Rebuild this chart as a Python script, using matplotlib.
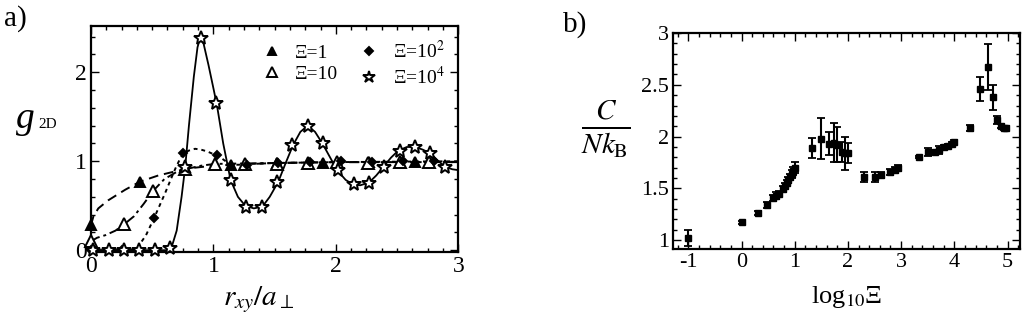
import matplotlib

matplotlib.use("Agg")
import matplotlib.pyplot as plt
from matplotlib.ticker import MultipleLocator, FuncFormatter

plt.rcParams["font.family"] = ["Liberation Serif", "DejaVu Serif"]
plt.rcParams["mathtext.fontset"] = "stix"
plt.rcParams["axes.unicode_minus"] = False

# ---- panel a: g_2D(r) for four coupling strengths
star_x = [0.02, 0.145, 0.27, 0.395, 0.52, 0.645, 0.77, 0.895, 1.02, 1.145, 1.27, 1.395,
          1.52, 1.645, 1.77, 1.895, 2.02, 2.145, 2.27, 2.395, 2.52, 2.645, 2.77, 2.895]
star_y = [0.0, 0.0, 0.0, 0.0, 0.0, 0.02, 0.94, 2.38, 1.65, 0.79, 0.49, 0.49,
          0.77, 1.18, 1.40, 1.20, 0.90, 0.74, 0.76, 0.94, 1.12, 1.16, 1.09, 0.94]
star_line_x = [0.0, 0.62, 0.66, 0.70, 0.74, 0.77, 0.80, 0.84, 0.87, 0.89, 0.92, 0.96, 1.00,
               1.03, 1.08, 1.14, 1.20, 1.26, 1.33, 1.40, 1.46, 1.53, 1.59, 1.65, 1.71, 1.77,
               1.83, 1.89, 1.95, 2.01, 2.08, 2.14, 2.20, 2.27, 2.33, 2.39, 2.45, 2.51, 2.58,
               2.65, 2.71, 2.77, 2.83, 2.89, 2.95, 3.0]
star_line_y = [0.0, 0.0, 0.04, 0.22, 0.60, 0.94, 1.40, 1.95, 2.28, 2.38, 2.32, 2.08, 1.82,
               1.62, 1.20, 0.79, 0.60, 0.50, 0.47, 0.49, 0.60, 0.77, 0.98, 1.18, 1.33, 1.40,
               1.33, 1.20, 1.05, 0.90, 0.79, 0.74, 0.73, 0.76, 0.84, 0.94, 1.04, 1.12, 1.16,
               1.16, 1.13, 1.09, 1.01, 0.94, 0.91, 0.90]

tri_x = [0.0, 0.40, 0.77, 1.145, 1.52, 1.895, 2.27, 2.645]
tri_y = [0.28, 0.77, 0.93, 0.96, 0.98, 0.98, 0.99, 0.99]
tri_line_x = [0.0, 0.02, 0.06, 0.14, 0.28, 0.40, 0.55, 0.70, 0.80, 1.0, 1.15, 1.5, 2.0, 3.0]
tri_line_y = [0.28, 0.38, 0.47, 0.56, 0.68, 0.77, 0.84, 0.89, 0.92, 0.95, 0.96, 0.98, 0.99, 0.99]

otri_x = [0.0, 0.27, 0.51, 0.77, 1.01, 1.26, 1.52, 1.77, 2.01, 2.26, 2.52, 2.76]
otri_y = [0.10, 0.29, 0.67, 0.91, 0.97, 0.97, 0.97, 0.98, 0.99, 0.98, 0.99, 0.99]
otri_line_x = [0.0, 0.05, 0.12, 0.20, 0.27, 0.35, 0.43, 0.51, 0.60, 0.70, 0.77, 0.90, 1.01,
               1.5, 2.0, 3.0]
otri_line_y = [0.10, 0.14, 0.17, 0.22, 0.29, 0.38, 0.52, 0.67, 0.80, 0.88, 0.91, 0.95, 0.97,
               0.98, 0.99, 0.99]

dia_x = [0.0, 0.255, 0.515, 0.755, 1.03, 1.275, 1.53, 1.785, 2.04, 2.295, 2.55, 2.805]
dia_y = [0.0, 0.0, 0.36, 1.09, 1.07, 0.96, 0.98, 0.99, 1.0, 0.99, 1.0, 1.0]
dia_line_x = [0.0, 0.33, 0.38, 0.45, 0.515, 0.56, 0.605, 0.65, 0.69, 0.725, 0.755, 0.80,
              0.85, 0.90, 0.95, 1.0, 1.03, 1.08, 1.13, 1.2, 1.3, 1.5, 2.0, 3.0]
dia_line_y = [0.0, 0.0, 0.03, 0.17, 0.36, 0.50, 0.64, 0.79, 0.92, 1.02, 1.09, 1.12,
              1.14, 1.13, 1.11, 1.08, 1.07, 1.02, 0.97, 0.96, 0.97, 0.98, 0.99, 1.0]

# ---- panel b: specific heat vs log10(Xi)
b_x = [-1.0, 0.0, 0.30, 0.48, 0.60, 0.65, 0.70, 0.78, 0.82, 0.85, 0.88, 0.91, 0.94, 0.97,
       1.00, 1.32, 1.50, 1.64, 1.73, 1.80, 1.89, 1.95, 2.01, 2.31, 2.50, 2.63, 2.80, 2.89,
       2.95, 3.33, 3.51, 3.64, 3.72, 3.80, 3.88, 3.95, 4.00, 4.30, 4.49, 4.63, 4.72, 4.80,
       4.87, 4.93, 4.98]
b_y = [1.02, 1.17, 1.26, 1.34, 1.41, 1.43, 1.45, 1.49, 1.52, 1.55, 1.58, 1.61, 1.64, 1.67,
       1.70, 1.89, 1.98, 1.93, 1.94, 1.92, 1.85, 1.84, 1.84, 1.61, 1.61, 1.63, 1.66, 1.68,
       1.70, 1.80, 1.85, 1.85, 1.87, 1.90, 1.91, 1.93, 1.95, 2.08, 2.46, 2.67, 2.38, 2.16,
       2.10, 2.08, 2.08]
b_err = [0.08, 0.01, 0.02, 0.03, 0.03, 0.03, 0.02, 0.03, 0.03, 0.03, 0.03, 0.03, 0.04, 0.04,
         0.05, 0.10, 0.20, 0.11, 0.19, 0.17, 0.10, 0.16, 0.10, 0.05, 0.05, 0.03, 0.03, 0.03,
         0.03, 0.01, 0.04, 0.02, 0.04, 0.02, 0.02, 0.02, 0.02, 0.03, 0.12, 0.22, 0.12, 0.04,
         0.02, 0.02, 0.02]


def style_axes(ax, major_x, minor_x, major_y, minor_y, size):
    ax.xaxis.set_major_locator(MultipleLocator(major_x))
    ax.xaxis.set_minor_locator(MultipleLocator(minor_x))
    ax.yaxis.set_major_locator(MultipleLocator(major_y))
    ax.yaxis.set_minor_locator(MultipleLocator(minor_y))
    plain = FuncFormatter(lambda v, _: f"{v:g}")
    ax.xaxis.set_major_formatter(plain)
    ax.yaxis.set_major_formatter(plain)
    ax.tick_params(which="both", direction="in", top=True, right=True, labelsize=size,
                   width=1.0, pad=3)
    ax.tick_params(which="major", length=6)
    ax.tick_params(which="minor", length=3)
    for s in ax.spines.values():
        s.set_linewidth(1.6)


fig = plt.figure(figsize=(10.29, 3.21), dpi=100)

ax = fig.add_axes([0.0884, 0.215, 0.357, 0.704])
kw = dict(color="black", markeredgecolor="black", markeredgewidth=1.4, linestyle="none",
          clip_on=False, zorder=3)
ax.plot(star_line_x, star_line_y, "-", color="black", lw=1.3)
ax.plot(tri_line_x, tri_line_y, color="black", lw=1.4, dashes=(5, 3))
ax.plot(otri_line_x, otri_line_y, color="black", lw=1.4, dashes=(5, 2, 1.5, 2))
ax.plot(dia_line_x, dia_line_y, color="black", lw=1.4, dashes=(2, 2))
h1, = ax.plot(tri_x, tri_y, marker="^", markersize=7, markerfacecolor="black", **kw)
h2, = ax.plot(otri_x, otri_y, marker="^", markersize=8, markerfacecolor="white", **kw)
h3, = ax.plot(dia_x, dia_y, marker="D", markersize=4.5, markerfacecolor="black", **kw)
h4, = ax.plot(star_x, star_y, marker="*", markersize=10.5, markerfacecolor="white", **kw)
ax.set_xlim(0, 3)
ax.set_ylim(-0.02, 2.52)
style_axes(ax, 1, 0.125, 1, 0.2, 17)
ax.legend([h1, h2, h3, h4], ["Ξ=1", "Ξ=10", "Ξ=10$^2$", "Ξ=10$^4$"], ncol=2,
          loc="upper right", frameon=False, fontsize=14, handletextpad=0.2,
          columnspacing=0.6, labelspacing=0.2, borderaxespad=0.3, markerscale=0.85)
fig.text(0.004, 0.92, "a)", fontsize=21)
fig.text(0.016, 0.6, "g", fontsize=27, style="italic")
fig.text(0.037, 0.6, "2D", fontsize=11)
fig.text(0.251, 0.05, "$r_{xy}/a_{\\perp}$", fontsize=21, ha="center")

bx = fig.add_axes([0.654, 0.224, 0.337, 0.673])
bx.errorbar(b_x, b_y, yerr=b_err, fmt="s", color="black", markersize=5, capsize=3,
            elinewidth=1.5, capthick=1.3)
bx.set_xlim(-1.29, 5.23)
bx.set_ylim(0.913, 3.0)
style_axes(bx, 1, 0.2, 0.5, 0.1, 16)
fig.text(0.547, 0.9, "b)", fontsize=21)
fig.text(0.589, 0.6, "$\\frac{C}{Nk_{\\mathrm{B}}}$", fontsize=30, ha="center",
         va="center")
fig.text(0.823, 0.055, "log$_{10}$Ξ", fontsize=19, ha="center")

fig.savefig("out.png", dpi=100)
